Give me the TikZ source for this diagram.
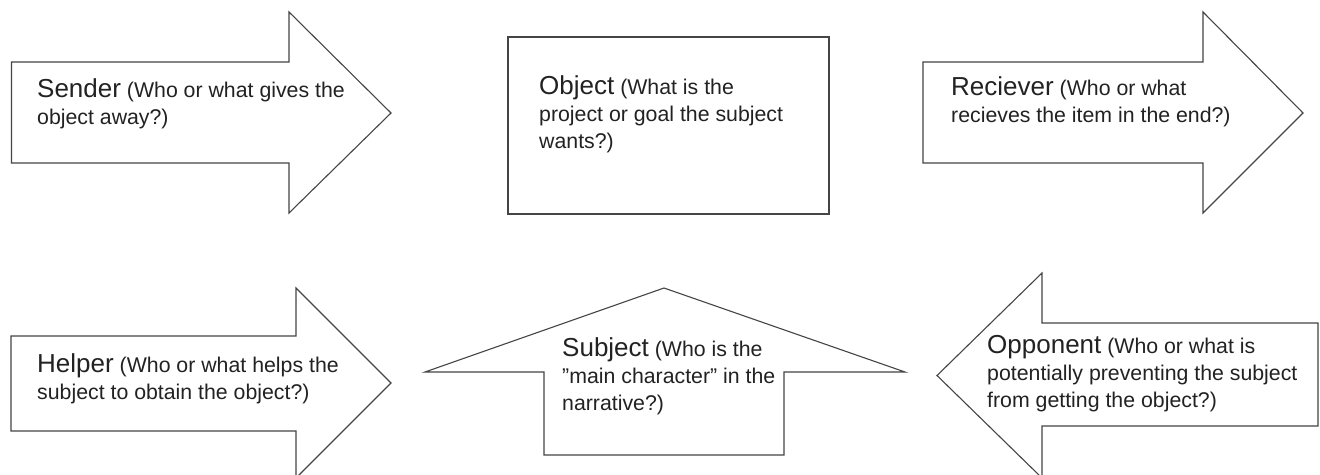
\documentclass[tikz,border=0pt]{standalone}
\usepackage{fontspec}
\setmainfont{Liberation Sans}
\definecolor{linec}{HTML}{454545}
\definecolor{textc}{HTML}{222222}
\newcommand{\ttl}[1]{{\fontsize{26}{27}\selectfont #1}}
\tikzset{
  shapeline/.style={draw=linec, line width=1.1pt, line join=miter, fill=white},
  lbl/.style={anchor=base west, inner sep=0pt, text=textc},
}
\newcommand{\lines}[2]{\parbox[t]{#1}{\fontsize{21.3}{27}\selectfont\raggedright #2}}
\begin{document}
\begin{tikzpicture}[x=1pt,y=-1pt]
\useasboundingbox[fill=white] (0,0) rectangle (1320,474);
% Sender
\draw[shapeline] (11.5,62) -- (289,62) -- (289,12) -- (391,113) -- (289,213) -- (289,163) -- (11.5,163) -- cycle;
\node[lbl] (tsender) at (37,97) {\lines{340pt}{\ttl{Sender} (Who or what gives the\\object away?)}};
% Object
\draw[shapeline] (508,37) rectangle (829,214);
\node[lbl] (tobject) at (539,94) {\lines{280pt}{\ttl{Object} (What is the\\project or goal the subject\\wants?)}};
% Receiver
\draw[shapeline] (923,62) -- (1203,62) -- (1203,12) -- (1303,113) -- (1203,213) -- (1203,163) -- (923,163) -- cycle;
\node[lbl] (treceiver) at (951,95) {\lines{340pt}{\ttl{Reciever} (Who or what\\recieves the item in the end?)}};
% Helper
\draw[shapeline] (11,336) -- (296,336) -- (296,288) -- (391,383) -- (296,478) -- (296,431) -- (11,431) -- cycle;
\node[lbl] (thelper) at (37,372) {\lines{340pt}{\ttl{Helper} (Who or what helps the\\subject to obtain the object?)}};
% Subject
\draw[shapeline] (664,288) -- (905,372) -- (784,372) -- (784,455) -- (544,455) -- (544,372) -- (425,372) -- cycle;
\node[lbl] (tsubject) at (562,356) {\lines{240pt}{\ttl{Subject} (Who is the\\”main character” in the\\narrative?)}};
% Opponent
\draw[shapeline] (937,375.5) -- (1042,273) -- (1042,323) -- (1318,323) -- (1318,426) -- (1042,426) -- (1042,478) -- cycle;
\node[lbl] (topponent) at (987,353) {\lines{340pt}{\ttl{Opponent} (Who or what is\\potentially preventing the subject\\from getting the object?)}};
\end{tikzpicture}
\end{document}
